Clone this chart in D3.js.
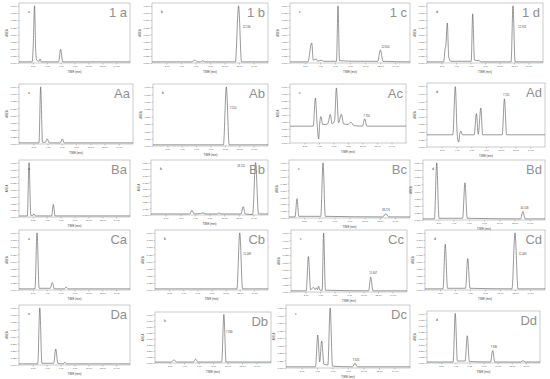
<!DOCTYPE html>
<html lang="en-us">
  <head>
    <meta charset="utf-8">
    <title>Chromatograms</title>
    <script src="https://cdn.jsdelivr.net/npm/d3@7"></script>
    <style>
      body { margin: 0; background: #fff; }
      svg text { font-family: "Liberation Sans", Arial, sans-serif; }
    </style>
  </head>
  <body>
    <div id="chart"></div>
    <script>

// panel names, row by row
var panelNames = ["1a","1b","1c","1d","Aa","Ab","Ac","Ad","Ba","Bb","Bc","Bd","Ca","Cb","Cc","Cd","Da","Db","Dc","Dd"];

// traces: [time (min), response]
var trace1a = [[0,0.02],[1.9,0.02],[2.05,0.3],[2.24,1.0],[2.4,0.25],[2.55,0.05],[2.9,0.03],[3.04,0.07],[3.2,0.02],[5.7,0.02],[6.0,0.24],[6.3,0.02],[16,0.02]];
var trace1b = [[0,0.02],[5.5,0.02],[5.9,0.05],[6.3,0.02],[6.7,0.02],[7.0,0.04],[7.3,0.02],[11.5,0.02],[11.94,1.0],[12.35,0.02],[16,0.02]];
var trace1c = [[0,0.02],[2.4,0.02],[2.6,0.15],[2.75,0.3],[2.9,0.35],[3.1,0.05],[3.5,0.07],[3.7,0.03],[4.2,0.05],[4.5,0.03],[6.2,0.03],[6.4,1.0],[6.6,0.04],[9,0.03],[11.7,0.03],[12.05,0.23],[12.4,0.03],[16,0.02]];
var trace1d = [[0,0.02],[2.3,0.02],[2.5,0.25],[2.6,0.3],[2.8,0.7],[3.0,0.1],[3.3,0.03],[6.1,0.03],[6.3,0.86],[6.55,0.05],[7.2,0.04],[7.5,0.02],[11.6,0.02],[11.86,1.0],[12.15,0.02],[16,0.02]];
var traceAa = [[0,0.02],[2.8,0.02],[3.04,1.0],[3.3,0.03],[3.7,0.03],[3.95,0.09],[4.25,0.02],[5.8,0.02],[6.08,0.09],[6.35,0.02],[16,0.02]];
var traceAb = [[0,0.02],[9.8,0.02],[10.2,1.0],[10.6,0.02],[16,0.02]];
var traceAc = [[0,0.3],[3.2,0.3],[3.5,0.8],[3.75,0.32],[3.95,0.07],[4.1,0.35],[4.27,0.47],[4.5,0.33],[4.9,0.33],[5.2,0.34],[5.56,0.51],[5.8,0.34],[6.15,0.4],[6.4,0.98],[6.7,0.36],[7.08,0.51],[7.4,0.34],[8.0,0.33],[8.4,0.37],[8.8,0.31],[10.0,0.3],[10.3,0.43],[10.6,0.3],[16,0.3]];
var traceAd = [[0,0.2],[3.5,0.2],[3.84,0.99],[4.1,0.2],[4.3,0.08],[4.45,0.22],[4.6,0.26],[4.8,0.2],[6.4,0.2],[6.7,0.55],[6.95,0.21],[7.3,0.64],[7.55,0.2],[10.2,0.2],[10.5,0.79],[10.8,0.2],[16,0.2]];
var traceBa = [[0,0.02],[1.2,0.02],[1.45,1.0],[1.7,0.03],[2.0,0.03],[2.15,0.06],[2.35,0.02],[4.7,0.02],[4.95,0.23],[5.2,0.02],[16,0.02]];
var traceBb = [[0,0.02],[5.3,0.02],[5.6,0.09],[5.9,0.02],[6.8,0.03],[7.1,0.04],[7.4,0.02],[9.1,0.02],[9.3,0.04],[9.6,0.02],[12.3,0.02],[12.6,0.16],[12.9,0.02],[13.9,0.01],[14.3,1.0],[14.7,0.02],[16,0.02]];
var traceBc = [[0,0.02],[0.8,0.02],[1.06,0.35],[1.3,0.03],[4.2,0.03],[4.5,1.0],[4.8,0.03],[12.4,0.02],[12.8,0.08],[13.2,0.02],[16,0.02]];
var traceBd = [[0,0.02],[1.5,0.02],[1.8,1.0],[2.1,0.03],[5.2,0.03],[5.5,0.65],[5.8,0.03],[12.8,0.02],[13.1,0.15],[13.4,0.02],[16,0.02]];
var traceCa = [[0,0.02],[2.3,0.02],[2.6,1.0],[2.9,0.03],[4.5,0.03],[4.8,0.13],[5.1,0.02],[6.5,0.02],[6.8,0.05],[7.1,0.02],[16,0.02]];
var traceCb = [[0,0.02],[11.6,0.02],[12.0,1.0],[12.4,0.02],[16,0.02]];
var traceCc = [[0,0.02],[2.1,0.02],[2.4,0.6],[2.7,0.04],[3.1,0.08],[3.3,0.04],[3.5,0.07],[3.65,0.04],[3.8,0.1],[4.0,0.03],[4.3,0.03],[4.5,1.0],[4.75,0.03],[10.7,0.02],[11.0,0.25],[11.3,0.02],[16,0.02]];
var traceCd = [[0,0.02],[2.4,0.02],[2.7,0.8],[3.0,0.03],[5.4,0.03],[5.7,0.55],[6.0,0.03],[11.6,0.02],[12.0,1.0],[12.4,0.02],[16,0.02]];
var traceDa = [[0,0.02],[2.7,0.02],[3.0,1.0],[3.3,0.03],[5.0,0.03],[5.3,0.28],[5.6,0.03],[6.4,0.02],[6.6,0.05],[6.8,0.02],[16,0.02]];
var traceDb = [[0,0.02],[2.2,0.02],[2.6,0.06],[3.0,0.02],[5.3,0.02],[5.6,0.08],[5.9,0.02],[9.2,0.02],[9.5,1.0],[9.8,0.02],[16,0.02]];
var traceDc = [[0,0.02],[3.8,0.02],[4.1,0.55],[4.35,0.1],[4.6,0.45],[4.9,0.06],[5.4,0.05],[5.7,1.0],[6.0,0.03],[8.6,0.02],[8.9,0.08],[9.2,0.02],[16,0.02]];
var traceDd = [[0,0.02],[3.7,0.02],[4.0,1.0],[4.3,0.04],[5.4,0.04],[5.7,0.55],[6.0,0.03],[9.0,0.02],[9.3,0.25],[9.6,0.02],[13.3,0.02],[13.6,0.05],[13.9,0.02],[16,0.02]];

// retention time labels on the marked peaks: [time, response, text]
var peakLabels = {"1b":[12.5,0.62,"12.194"],"1c":[12.2,0.27,"12.954"],"1d":[12.6,0.62,"12.913"],
  "Ab":[10.7,0.62,"7.524"],"Ac":[10.1,0.47,"7.756"],"Ad":[10.3,0.84,"7.741"],
  "Bb":[11.8,0.92,"28.115"],"Bc":[12.3,0.12,"38.276"],"Bd":[12.8,0.2,"40.108"],
  "Cb":[12.5,0.62,"11.069"],"Cc":[10.8,0.3,"11.607"],"Cd":[12.5,0.62,"11.049"],
  "Db":[9.8,0.62,"7.930"],"Dc":[8.6,0.12,"7.926"],"Dd":[9.0,0.3,"7.936"]};

var traces = [trace1a,trace1b,trace1c,trace1d,traceAa,traceAb,traceAc,traceAd,traceBa,traceBb,traceBc,traceBd,traceCa,traceCb,traceCc,traceCd,traceDa,traceDb,traceDc,traceDd];

var timeTicks = [2, 4, 6, 8, 10, 12, 14];
var areaTicks = [0, 0.125, 0.25, 0.375, 0.5, 0.625, 0.75, 0.875, 1];

// plot frames in the figure: [left, top, right, bottom]
var frames = [
  [19,3,130,63],[152,3,268,63],[290,3,410,63],[427,3,543,63],
  [19,84,133,144],[153,84,268,146],[290,84,406,143],[427,83,545,147],
  [19,160,130,217],[151,160,268,215],[289,160,410,218],[423,160,545,220],
  [19,230,130,290],[155,230,268,290],[291,230,407,292],[425,230,545,290],
  [19,305,130,365],[155,312,271,363],[286,305,410,368],[427,311,540,363]
];

var svg = d3.select("#chart").append("svg")
    .attr("width", 550)
    .attr("height", 379);

panelNames.forEach(function(name, i) {
  var f = frames[i],
      w = f[2] - f[0],
      h = f[3] - f[1],
      data = traces[i];

  var x = d3.scaleLinear().domain([0, 16]).range([0, w]);
  var y = d3.scaleLinear().domain([0, 1.05]).range([h, 0]);

  var g = svg.append("g")
      .attr("transform", "translate(" + f[0] + "," + f[1] + ")");

  g.append("rect")
      .attr("width", w)
      .attr("height", h)
      .style("fill", "none")
      .style("stroke", "#a8a8a8")
      .style("stroke-width", 0.6);

  var xAxis = d3.axisBottom(x).tickValues(timeTicks).tickSize(1.5).tickPadding(1).tickFormat(d3.format(".2f"));
  var yAxis = d3.axisLeft(y).tickValues(areaTicks).tickSize(1.5).tickPadding(1).tickFormat(d3.format(".3f"));

  var xa = g.append("g").attr("transform", "translate(0," + h + ")").call(xAxis);
  var ya = g.append("g").call(yAxis);
  [xa, ya].forEach(function(a) {
    a.select(".domain").remove();
    a.selectAll("line").style("stroke", "#777").style("stroke-width", 0.4);
    a.selectAll("text").style("font-size", "2.4px").style("fill", "#555");
  });

  g.append("text")
      .attr("x", w / 2)
      .attr("y", h + 9.5)
      .attr("text-anchor", "middle")
      .style("font-size", "2.8px")
      .style("fill", "#444")
      .text("TIME (min)");

  g.append("text")
      .attr("transform", "translate(-11," + (h / 2) + ") rotate(-90)")
      .attr("text-anchor", "middle")
      .style("font-size", "2.8px")
      .style("fill", "#444")
      .text("AREA");

  var line = d3.line()
      .x(function(d) { return x(d[0]); })
      .y(function(d) { return y(d[1]); })
      .curve(d3.curveMonotoneX);

  g.append("path")
      .datum(data)
      .attr("d", line)
      .style("fill", "none")
      .style("stroke", "#555")
      .style("stroke-width", 0.6);

  g.append("text")
      .attr("x", 9)
      .attr("y", 10)
      .style("font-size", "3.5px")
      .style("fill", "#444")
      .text(name.charAt(1));

  var pl = peakLabels[name];
  if (pl) {
    g.append("text")
        .attr("x", x(pl[0]))
        .attr("y", y(pl[1]))
        .style("font-size", "2.6px")
        .style("fill", "#444")
        .text(pl[2]);
  }

  g.append("text")
      .attr("x", w - 3)
      .attr("y", 14)
      .attr("text-anchor", "end")
      .style("font-size", "13px")
      .style("font-weight", 300)
      .style("fill", "#909090")
      .text(name.charAt(0) + (name.charAt(0) === "1" ? " " : "") + name.charAt(1));
});

    </script>
  </body>
</html>
